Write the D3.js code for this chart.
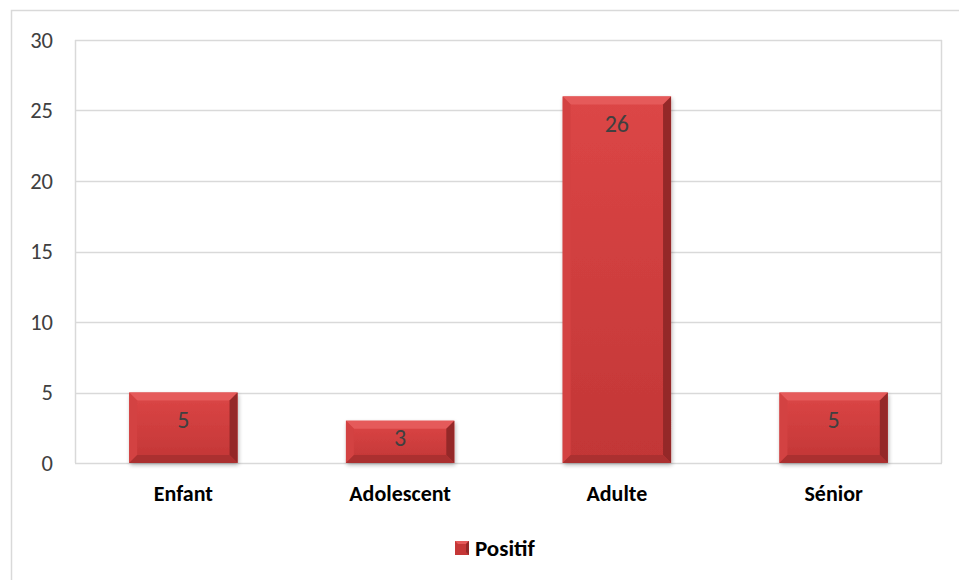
<!DOCTYPE html>
<html>
<head>
<meta charset="utf-8">
<script src="https://cdn.jsdelivr.net/npm/d3@7"></script>
<style>
  html, body { margin: 0; padding: 0; background: #fff; }
  svg { display: block; font-family: Carlito, Calibri, "Open Sans", "Liberation Sans", sans-serif; }
</style>
</head>
<body>
<svg id="chart" width="959" height="580"></svg>
<script>
const categories = ["Enfant", "Adolescent", "Adulte", "Sénior"];
const values = [5, 3, 26, 5];
const yTicks = [0, 5, 10, 15, 20, 25, 30];
const seriesName = "Positif";

const svg = d3.select("#chart");
const m = { left: 75, top: 40, right: 942, bottom: 463 };
const FONT = "Carlito, Calibri, 'Open Sans', sans-serif";

// outer chart frame (continues past the right and bottom edges)
svg.append("rect").attr("x", 11.5).attr("y", 10.5).attr("width", 1000).attr("height", 1000)
  .attr("fill", "#fff").attr("stroke", "#d9d9d9").attr("stroke-width", 1.5);

const x = d3.scaleBand().domain(categories).range([m.left, m.right]).paddingInner(0.5).paddingOuter(0.25);
const y = d3.scaleLinear().domain([0, 30]).range([m.bottom, m.top]);

const defs = svg.append("defs");
const grad = defs.append("linearGradient").attr("id", "barFill").attr("x1", 0).attr("y1", 0).attr("x2", 0).attr("y2", 1);
grad.append("stop").attr("offset", 0).attr("stop-color", "#dc4646");
grad.append("stop").attr("offset", 1).attr("stop-color", "#c23636");
const shadow = defs.append("filter").attr("id", "shadow").attr("x", "-10%").attr("y", "-10%").attr("width", "130%").attr("height", "130%");
shadow.append("feGaussianBlur").attr("in", "SourceAlpha").attr("stdDeviation", 2);
shadow.append("feOffset").attr("dx", 1).attr("dy", 2).attr("result", "b");
shadow.append("feComponentTransfer").append("feFuncA").attr("type", "linear").attr("slope", 0.3);
const mg = shadow.append("feMerge");
mg.append("feMergeNode");
mg.append("feMergeNode").attr("in", "SourceGraphic");

// gridlines and plot-area frame
svg.append("g").selectAll("line").data(yTicks).join("line")
  .attr("x1", m.left).attr("x2", m.right)
  .attr("y1", d => Math.round(y(d)) + 0.5).attr("y2", d => Math.round(y(d)) + 0.5)
  .attr("stroke", "#d9d9d9").attr("stroke-width", 1.5);
svg.append("line").attr("x1", m.left + 0.5).attr("x2", m.left + 0.5).attr("y1", m.top).attr("y2", m.bottom)
  .attr("stroke", "#d9d9d9").attr("stroke-width", 1.5);
svg.append("line").attr("x1", m.right - 0.5).attr("x2", m.right - 0.5).attr("y1", m.top).attr("y2", m.bottom)
  .attr("stroke", "#d9d9d9").attr("stroke-width", 1.5);

// y axis labels
const yAxis = d3.axisLeft(y).tickValues(yTicks).tickSize(0).tickPadding(22);
const ya = svg.append("g").attr("transform", `translate(${m.left},0)`).call(yAxis);
ya.select(".domain").remove();
ya.selectAll("text").attr("font-size", 22.5).attr("fill", "#404040").attr("font-family", FONT);

// x axis labels
const xAxis = d3.axisBottom(x).tickSize(0).tickPadding(22);
const xa = svg.append("g").attr("transform", `translate(0,${m.bottom})`).call(xAxis);
xa.select(".domain").remove();
xa.selectAll("text").attr("font-size", 22).attr("font-weight", "bold").attr("fill", "#000").attr("font-family", FONT);

// bevelled bars
const bev = 8;
const bars = svg.append("g").selectAll("g").data(categories.map((c, i) => ({ c, v: values[i] }))).join("g");
bars.each(function(d) {
  const g = d3.select(this);
  const x0 = x(d.c), x1 = x0 + x.bandwidth(), y0 = y(d.v), y1 = y(0);
  g.append("rect").attr("x", x0).attr("y", y0).attr("width", x1 - x0).attr("height", y1 - y0)
    .attr("fill", "url(#barFill)").attr("filter", "url(#shadow)");
  g.append("polygon").attr("points", [[x0, y0], [x1, y0], [x1 - bev, y0 + bev], [x0 + bev, y0 + bev]].join(" "))
    .attr("fill", "#e55a5a");
  g.append("polygon").attr("points", [[x0, y0], [x0 + bev, y0 + bev], [x0 + bev, y1 - bev], [x0, y1]].join(" "))
    .attr("fill", "#d34242");
  g.append("polygon").attr("points", [[x1, y0], [x1, y1], [x1 - bev, y1 - bev], [x1 - bev, y0 + bev]].join(" "))
    .attr("fill", "#942828");
  g.append("polygon").attr("points", [[x0, y1], [x1, y1], [x1 - bev, y1 - bev], [x0 + bev, y1 - bev]].join(" "))
    .attr("fill", "#ab3030");
  // value label near the inside end, kept within short bars
  g.append("text").attr("x", (x0 + x1) / 2).attr("y", Math.min(y0 + 35.5, y1 - 17.5))
    .attr("text-anchor", "middle").attr("font-size", 24).attr("fill", "#404040")
    .text(d.v);
});

// legend
const lg = svg.append("g").attr("transform", "translate(455,541)");
const s = 14;
lg.append("rect").attr("width", s).attr("height", s).attr("fill", "#c53737");
lg.append("polygon").attr("points", `0,0 ${s},0 ${s - 3},3 3,3`).attr("fill", "#e55a5a");
lg.append("polygon").attr("points", `${s},0 ${s},${s} ${s - 3},${s - 3} ${s - 3},3`).attr("fill", "#942828");
lg.append("text").attr("x", 20).attr("y", 14.5).attr("font-size", 23).attr("font-weight", "bold")
  .attr("fill", "#000").text(seriesName);
</script>
</body>
</html>
